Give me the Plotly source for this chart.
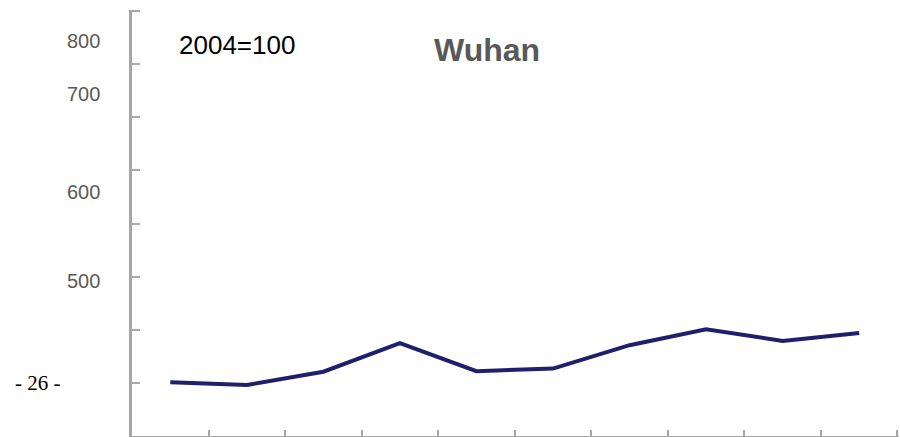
import plotly.graph_objs as go

# ---- data (2004=100) ----
years = ['2004', '2005', '2006', '2007', '2008', '2009', '2010', '2011', '2012', '2013']
wuhan_index = [101, 96, 121, 175, 122, 127, 171, 201, 179, 194]

# labels printed beside the axis (they do not line up with the ticks in the original)
side_labels = ['800', '700', '600', '500']
side_label_px = [41, 94, 192, 281]

W, H = 900, 437
L, R, T, B = 132, 1, 10, 1
AXIS_GREY = '#a6a6a6'


def px_x(px):
    return (px - L) / (W - L - R)


def px_y(py):
    return (H - B - py) / (H - T - B)


fig = go.Figure(go.Scatter(
    x=years,
    y=wuhan_index,
    mode='lines',
    line=dict(color='#1f1f6b', width=4),
    hoverinfo='x+y',
    showlegend=False,
))

for text, py in zip(side_labels, side_label_px):
    fig.add_annotation(
        x=px_x(102), y=px_y(py), xref='paper', yref='paper',
        text=text, showarrow=False, xanchor='right', yanchor='middle',
        font=dict(family='Arial, Liberation Sans', size=20, color='#595959'),
    )

fig.add_annotation(
    x=px_x(177), y=px_y(45), xref='paper', yref='paper',
    text='2004=100', showarrow=False, xanchor='left', yanchor='middle',
    font=dict(family='Arial, Liberation Sans', size=26, color='#000000'),
)
fig.add_annotation(
    x=px_x(487), y=px_y(50), xref='paper', yref='paper',
    text='<b>Wuhan</b>', showarrow=False, xanchor='center', yanchor='middle',
    font=dict(family='Arial, Liberation Sans', size=32, color='#595959'),
)
# page number from the scanned report
fig.add_annotation(
    x=px_x(38), y=px_y(383), xref='paper', yref='paper',
    text='- 26 -', showarrow=False, xanchor='center', yanchor='middle',
    font=dict(family='Liberation Serif, Times New Roman', size=21, color='#000000'),
)

fig.update_layout(
    width=W, height=H,
    margin=dict(l=L, r=R, t=T, b=B),
    paper_bgcolor='white', plot_bgcolor='white',
    xaxis=dict(
        type='category', range=[-0.5, 9.52], tickson='boundaries',
        showticklabels=False, ticks='inside', ticklen=6, tickwidth=2, tickcolor=AXIS_GREY,
        showline=True, linecolor=AXIS_GREY, linewidth=2, showgrid=False, zeroline=False,
    ),
    yaxis=dict(
        range=[0, 802], tickmode='linear', tick0=0, dtick=100,
        showticklabels=False, ticks='inside', ticklen=8, tickwidth=2, tickcolor=AXIS_GREY,
        showline=True, linecolor=AXIS_GREY, linewidth=3, showgrid=False, zeroline=False,
    ),
)

# drop the browser's default body margin so the figure sits at 0,0
fig.write_html("out.html", config={'displayModeBar': False},
               post_script="document.body.style.margin='0';")
